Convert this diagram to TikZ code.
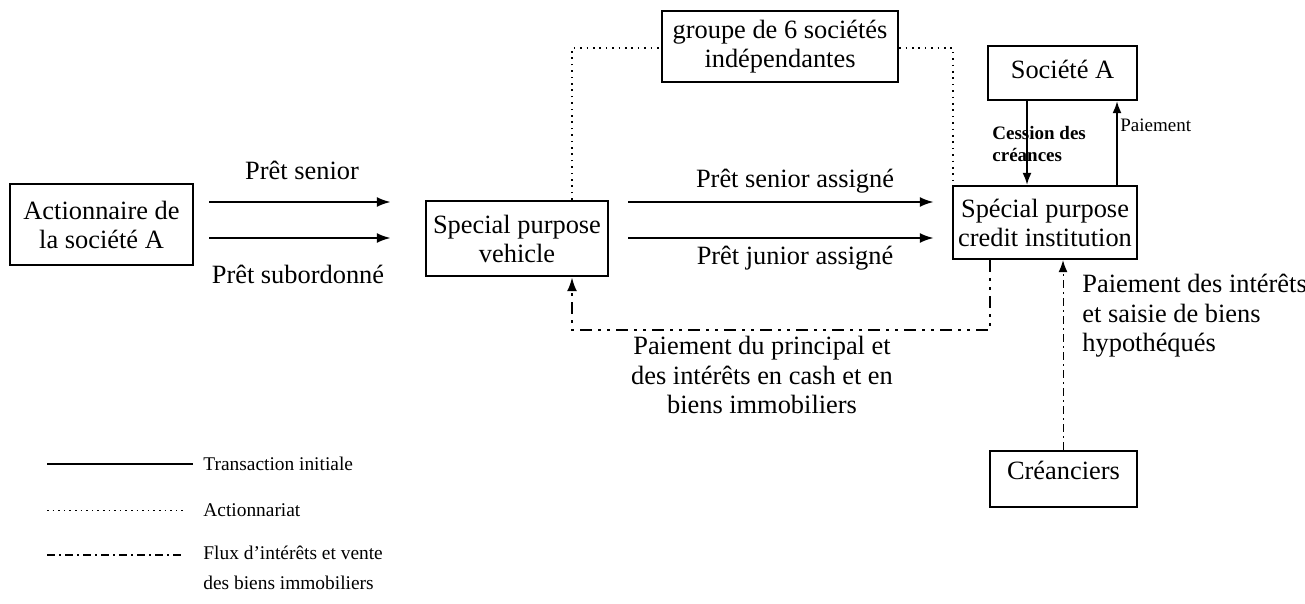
\documentclass[tikz,border=0pt]{standalone}
\usepackage{fontspec}
\setmainfont{Liberation Serif}
\usetikzlibrary{arrows.meta}

\begin{document}
\begin{tikzpicture}[x=0.5pt,y=-0.5pt,
  box/.style={draw,line width=1.2pt,rectangle,inner sep=0pt,align=center,
              font=\fontsize{13.2}{14.5}\selectfont},
  lbl/.style={font=\fontsize{13.2}{14.8}\selectfont,inner sep=0pt,align=center},
  small/.style={font=\fontsize{9.5}{11}\selectfont,inner sep=0pt,align=left},
  legtext/.style={font=\fontsize{9.7}{15}\selectfont,inner sep=0pt,align=left,anchor=west},
  solidarr/.style={line width=1.1pt,-{Latex[length=7pt,width=5pt]}},
  thinarr/.style={line width=0.8pt,-{Latex[length=6pt,width=4.5pt]}},
  owner/.style={line width=0.6pt,dash pattern=on 0.8pt off 2.4pt},
  flow/.style={line width=1.1pt,dash pattern=on 6pt off 3pt on 1.5pt off 3pt on 1.5pt off 3pt},
  flowthin/.style={line width=0.5pt,dash pattern=on 4pt off 2pt on 1pt off 2pt},
]
\useasboundingbox (0,0) rectangle (1305,604);

% boxes (sizes in pt: half of the drawing units)
\node[box,minimum width=91.5pt,minimum height=40.5pt] (act) at (101.5,224.5) {Actionnaire de\\la société A};
\node[box,minimum width=91pt,minimum height=37.5pt] (spv) at (517,238.5) {Special purpose\\vehicle};
\node[box,minimum width=118pt,minimum height=35.5pt] (grp) at (780,46.5) {groupe de 6 sociétés\\indépendantes};
\node[box,minimum width=92pt,minimum height=36.5pt] (spci) at (1045,222.5) {Spécial purpose\\credit institution};
\node[box,minimum width=74.5pt,minimum height=27pt] (soc) at (1062.5,73) {\raisebox{4pt}{Société A}};
\node[box,minimum width=73.5pt,minimum height=28pt] (cre) at (1063.5,479) {\raisebox{9pt}{Créanciers}};

% helper coordinates for the routing of connectors
\coordinate (rowA) at (0,202);
\coordinate (rowB) at (0,238);
\coordinate (cx) at (1027,0);
\coordinate (px) at (1117,0);
\coordinate (dl) at (572,48);
\coordinate (dr) at (953,48);
\coordinate (pl) at (572,330);
\coordinate (pr) at (990,330);
\coordinate (kx) at (1063,0);

% initial loans
\draw[solidarr,shorten <=7.5pt,shorten >=17pt] (act.east |- rowA) -- (spv.west |- rowA);
\draw[solidarr,shorten <=7.5pt,shorten >=17pt] (act.east |- rowB) -- (spv.west |- rowB);
\draw[solidarr,shorten <=9.5pt,shorten >=9pt] (spv.east |- rowA) -- (spci.west |- rowA);
\draw[solidarr,shorten <=9.5pt,shorten >=9pt] (spv.east |- rowB) -- (spci.west |- rowB);

\node[lbl] (l1) at (302,170) {Prêt senior};
\node[lbl] (l2) at (298,274) {Prêt subordonné};
\node[lbl] (l3) at (795,181) {Prêt senior assigné};
\node[lbl] (l4) at (795,258) {Prêt junior assigné};

% Société A
\draw[thinarr] (soc.south -| cx) -- (spci.north -| cx);
\draw[thinarr] (spci.north -| px) -- (soc.south -| px);
\node[small,anchor=west,font=\bfseries\fontsize{9.5}{11}\selectfont] (l5) at (992,144) {Cession des\\créances};
\node[small,anchor=west] (l6) at (1120,125) {Paiement};

% shareholding
\draw[owner] (spv.north -| dl) -- (dl) -- (grp.west |- dl);
\draw[owner] (grp.east |- dr) -- (dr) -- (spci.north -| dr);

% interest and property flows
\draw[flow,-{Latex[length=7pt,width=5pt]}] (spci.south -| pr) -- (pr) -- (pl) -- (spv.south -| pl);
\draw[flowthin,-{Latex[length=6pt,width=4.5pt]}] (cre.north -| kx) -- (spci.south -| kx);

\node[lbl,anchor=north] (l7) at (762,336) {Paiement du principal et\\des intérêts en cash et en\\biens immobiliers};
\node[lbl,anchor=north west,align=left] (l8) at (1082,274) {Paiement des intérêts\\et saisie de biens\\hypothéqués};

% legend
\coordinate (g1a) at (47,464); \coordinate (g1b) at (193,464);
\coordinate (g2a) at (47,510); \coordinate (g2b) at (183,510);
\coordinate (g3a) at (47,555); \coordinate (g3b) at (183,555);
\draw[line width=1.2pt] (g1a) -- (g1b);
\draw[line width=0.5pt,dash pattern=on 0.8pt off 2pt] (g2a) -- (g2b);
\draw[line width=0.7pt,dash pattern=on 4pt off 2pt on 1pt off 2pt] (g3a) -- (g3b);
\node[legtext] (t1) at (203,464) {Transaction initiale};
\node[legtext] (t2) at (203,510) {Actionnariat};
\node[legtext,anchor=north west] (t3) at (203,546) {Flux d’intérêts et vente\\des biens immobiliers};
\end{tikzpicture}
\end{document}
